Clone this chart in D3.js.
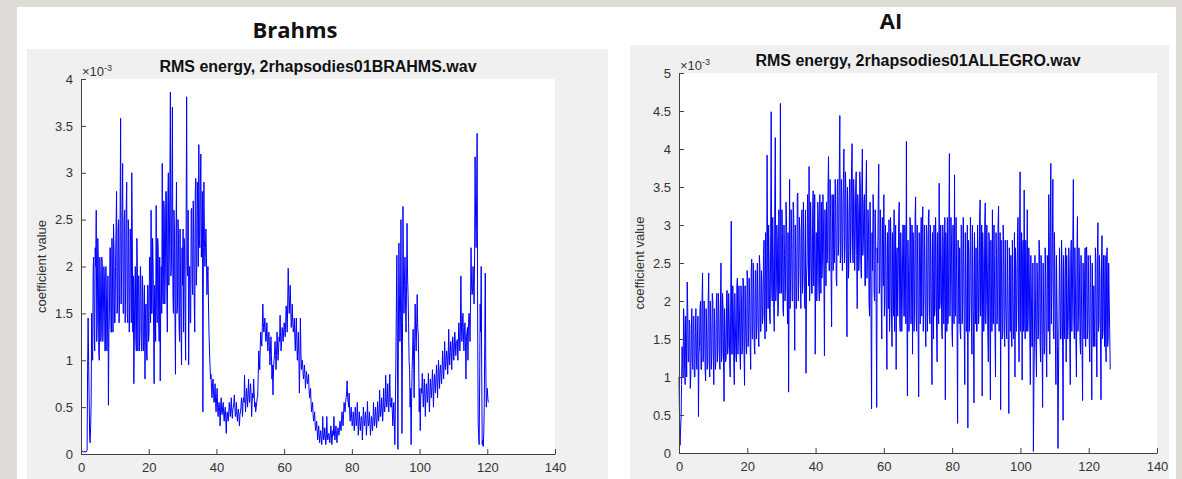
<!DOCTYPE html>
<html>
<head>
<meta charset="utf-8">
<script src="https://cdn.jsdelivr.net/npm/d3@7"></script>
<style>
  body { margin: 0; background: #dfdcd7; }
  text { font-family: "Liberation Sans", Arial, sans-serif; }
  .axis path, .axis line { stroke: #404040; }
  .axis text { fill: #333; font-size: 13px; font-family: "Liberation Sans", Arial, sans-serif; }
  .header { font-family: "Open Sans", Lato, sans-serif; font-weight: bold; font-size: 22px; fill: #111; }
  .title { font-weight: bold; font-size: 16px; fill: #111; }
  .y-label, .exp { fill: #333; font-size: 13px; }
</style>
</head>
<body>
<div id="chart"></div>
<script>
// frame hop in seconds, values are in units of 10^-3
const frameStep = 0.15;

const brahmsRms = [
  0.02,0.02,0.02,0.03,0.03,0.02,0.02,0.03,0.03,0.02,0.02,0.03,0.04,0.9,1.45,1.0,0.6,0.2,0.12,0.3,0.55,1.5,1.1,1.0,2.0,2.1,1.3,1.1,2.2,2.0,2.6,1.2,1.4,2.3,2.1,1.1,1.0,2.1,1.9,1.2,
  1.3,2.1,2.0,1.2,1.5,2.0,1.9,1.1,1.1,2.0,1.7,1.1,1.3,1.9,0.52,1.3,1.5,2.2,2.2,1.3,1.3,2.3,1.9,1.3,2.45,2.2,1.4,1.4,2.0,2.4,2.8,1.5,1.6,2.4,2.5,1.4,1.7,2.5,3.58,1.6,
  2.0,2.6,3.1,1.5,1.5,2.5,2.6,1.4,1.8,2.6,2.9,1.5,1.4,2.5,2.3,1.3,1.6,2.4,2.2,1.4,3.0,2.3,1.3,1.9,0.75,1.2,1.8,2.0,1.2,1.1,2.3,2.0,1.1,1.9,1.9,1.1,1.3,2.0,1.85,1.1,
  1.1,1.9,1.7,1.1,1.2,1.8,0.8,1.5,1.6,1.1,1.0,1.8,1.8,1.2,1.3,2.1,2.1,1.4,2.6,1.5,1.5,2.3,2.0,1.3,0.75,1.8,1.7,1.2,2.65,1.6,1.4,2.3,2.2,1.4,1.2,2.1,0.78,1.6,2.0,1.5,
  3.1,1.7,1.6,2.7,2.6,1.6,1.9,2.8,2.8,1.7,1.3,2.7,3.0,1.8,2.2,2.9,3.86,1.9,2.0,2.8,3.7,1.7,1.5,2.6,2.4,1.5,0.85,2.3,2.9,1.5,1.6,2.5,2.3,1.4,1.2,2.4,1.9,1.3,0.95,2.2,
  1.8,2.4,1.3,2.3,2.2,1.5,1.0,2.5,3.81,2.0,1.9,2.6,0.95,1.8,2.0,1.4,1.4,2.6,2.62,1.8,1.7,2.7,2.4,1.6,1.3,2.8,2.94,1.8,2.0,2.9,2.6,2.0,3.3,2.3,2.2,2.9,3.2,2.1,2.3,2.8,
  0.45,2.2,2.9,2.3,2.0,2.2,2.4,2.1,1.7,1.9,2.0,1.6,1.3,1.1,0.95,0.8,0.85,0.7,0.6,0.75,0.8,0.65,0.55,0.6,0.75,0.55,0.45,0.6,0.7,0.5,0.4,0.5,0.55,0.45,0.3,0.5,0.6,0.45,0.42,0.5,
  0.55,0.42,0.35,0.45,0.5,0.38,0.22,0.4,0.45,0.38,0.35,0.45,0.55,0.48,0.4,0.5,0.6,0.45,0.38,0.48,0.5,0.55,0.63,0.5,0.4,0.45,0.55,0.42,0.35,0.45,0.48,0.4,0.3,0.42,0.45,0.5,0.6,0.52,0.4,0.55,
  0.6,0.55,0.84,0.6,0.45,0.58,0.7,0.6,0.5,0.65,0.8,0.6,0.55,0.68,0.75,0.62,0.4,0.55,0.65,0.6,0.8,0.65,0.5,0.55,0.45,0.5,0.55,0.6,0.62,0.85,1.1,1.0,0.9,1.15,1.3,1.2,1.15,1.35,1.6,1.4,
  1.3,1.35,1.45,1.3,1.2,1.25,1.4,1.2,1.1,1.25,1.3,1.15,0.95,1.1,1.25,1.05,0.8,0.95,0.63,0.9,1.0,1.05,1.2,1.1,0.9,1.05,1.3,1.15,1.0,1.1,1.25,1.2,1.48,1.25,1.1,1.2,1.35,1.3,1.2,1.3,
  1.4,1.35,1.25,1.4,1.58,1.45,1.3,1.6,1.98,1.7,1.5,1.65,1.8,1.55,1.35,1.45,1.6,1.4,1.3,1.35,1.45,1.25,1.1,1.3,1.45,1.2,1.0,1.15,1.3,1.05,0.65,1.0,1.45,1.1,0.9,0.95,1.0,0.9,0.8,0.85,
  0.95,0.85,0.7,0.8,0.88,0.8,0.75,0.78,0.85,0.7,0.6,0.65,0.7,0.55,0.45,0.5,0.55,0.42,0.35,0.4,0.45,0.32,0.25,0.3,0.35,0.25,0.15,0.22,0.3,0.2,0.12,0.2,0.25,0.18,0.1,0.2,0.4,0.22,0.15,0.2,
  0.28,0.2,0.1,0.18,0.4,0.22,0.15,0.2,0.22,0.18,0.12,0.2,0.3,0.22,0.1,0.18,0.25,0.2,0.4,0.25,0.15,0.22,0.3,0.2,0.12,0.22,0.28,0.25,0.2,0.28,0.35,0.3,0.25,0.35,0.45,0.38,0.3,0.42,0.55,0.5,
  0.45,0.55,0.6,0.65,0.78,0.6,0.55,0.5,0.65,0.45,0.35,0.42,0.5,0.38,0.3,0.35,0.45,0.38,0.25,0.35,0.5,0.4,0.3,0.36,0.55,0.4,0.2,0.32,0.45,0.35,0.25,0.33,0.4,0.36,0.15,0.3,0.5,0.38,0.3,0.35,
  0.45,0.36,0.2,0.32,0.56,0.38,0.3,0.35,0.45,0.33,0.2,0.3,0.4,0.35,0.25,0.34,0.55,0.4,0.3,0.38,0.5,0.4,0.28,0.37,0.56,0.45,0.35,0.42,0.68,0.5,0.4,0.46,0.6,0.5,0.35,0.48,0.7,0.52,0.45,0.55,
  0.84,0.6,0.5,0.58,0.75,0.55,0.45,0.6,0.85,0.55,0.5,0.5,0.6,0.45,0.3,0.42,0.55,0.35,0.1,0.5,1.0,1.6,2.12,1.1,0.05,1.3,2.25,1.7,1.2,1.5,2.5,1.4,0.22,1.2,2.64,1.8,1.5,1.9,2.1,1.6,
  1.3,1.8,2.46,1.9,1.7,1.4,1.0,0.9,0.5,0.7,0.1,0.6,0.9,1.1,1.33,1.0,0.6,1.2,1.6,1.3,1.1,1.4,1.7,1.35,1.3,1.0,0.45,0.7,0.25,0.6,0.7,0.65,0.86,0.7,0.5,0.62,0.8,0.65,0.4,0.6,
  0.75,0.68,0.55,0.65,0.86,0.7,0.45,0.62,0.8,0.7,0.6,0.72,0.9,0.75,0.5,0.7,0.85,0.78,0.65,0.8,0.95,0.82,0.6,0.8,1.0,0.85,0.7,0.88,0.95,0.85,0.75,0.9,1.1,0.95,0.8,0.92,1.2,1.0,0.9,1.0,
  1.1,1.05,0.85,1.0,1.33,1.1,0.95,1.08,1.2,1.1,0.9,1.12,1.25,1.15,1.0,1.12,1.3,1.2,1.05,1.18,1.2,1.22,1.0,1.2,1.4,1.25,1.1,1.3,1.9,1.4,1.2,1.35,1.5,1.3,1.1,1.32,1.4,1.2,0.8,1.25,
  1.3,1.35,1.0,1.4,1.5,1.45,1.2,1.6,2.2,1.8,1.7,1.75,2.0,1.8,1.6,2.1,3.17,2.5,2.2,2.7,3.42,1.5,0.35,0.2,0.1,0.8,1.6,1.3,2.0,0.9,0.1,0.15,0.08,0.2,0.5,1.2,1.93,1.0,0.5,0.6,
  0.7,0.6,0.55
];

const aiRms = [
  1.0,0.5,0.1,0.3,0.45,0.9,1.4,1.2,1.0,1.9,1.7,1.1,0.9,1.8,1.5,1.0,2.25,1.9,1.2,1.2,1.75,1.7,0.85,1.0,1.55,1.9,1.2,1.1,1.8,1.8,1.0,1.0,1.6,1.9,1.25,1.1,1.5,1.8,0.48,1.3,
  1.4,1.9,2.0,1.1,1.1,2.0,2.37,1.2,1.3,2.0,1.8,1.1,0.95,1.9,1.6,1.1,1.2,2.0,2.37,1.2,1.0,2.0,1.7,1.1,1.3,2.1,2.0,1.2,0.9,1.9,1.6,1.1,1.2,2.0,2.1,1.2,1.4,2.1,1.8,1.2,
  1.1,2.0,2.5,1.2,1.3,2.1,1.9,1.2,0.68,1.9,1.6,1.2,1.25,2.1,2.14,1.3,1.4,2.1,1.8,1.2,1.0,2.0,3.05,1.3,1.3,2.2,1.9,1.2,0.9,2.1,1.7,1.3,1.2,2.2,2.3,1.3,1.5,2.2,1.9,1.3,
  1.1,2.2,2.0,1.3,1.4,2.3,2.2,1.3,0.89,2.2,1.8,1.4,1.3,2.4,2.3,1.4,1.6,2.3,2.0,1.4,1.1,2.4,2.55,1.5,1.5,2.5,2.1,1.4,1.3,2.4,2.4,1.5,1.7,2.5,2.0,1.5,1.4,2.6,2.45,1.6,
  1.6,2.4,2.2,1.7,1.8,2.6,2.8,1.8,1.5,2.9,2.3,1.6,3.92,2.7,1.9,3.0,2.5,1.8,1.7,2.9,4.49,2.2,2.0,3.1,2.6,1.9,1.6,3.3,4.15,2.0,2.2,3.0,2.8,1.8,1.9,3.2,2.4,2.1,4.6,2.3,
  2.1,3.2,2.9,1.9,1.8,3.0,2.6,2.0,2.2,3.3,3.0,2.1,1.7,2.9,0.8,2.2,3.6,1.9,2.3,3.2,2.8,2.0,2.0,3.3,3.1,2.1,1.35,3.0,2.6,1.9,2.2,3.4,3.42,2.0,2.4,3.1,2.9,2.2,1.9,3.0,
  3.2,2.1,2.3,3.3,2.7,2.0,1.9,3.2,1.05,2.3,2.5,3.4,3.0,2.2,3.77,2.0,2.4,3.3,2.8,2.1,2.1,3.2,3.45,2.2,2.6,3.4,1.3,2.5,2.9,2.0,2.3,3.3,3.1,2.2,2.0,3.4,2.7,2.1,3.3,2.3,
  2.5,3.4,3.0,2.3,1.28,3.2,2.8,2.2,3.3,2.5,2.6,3.5,3.9,2.4,2.4,3.6,3.1,2.3,1.66,3.4,2.9,2.4,3.4,2.5,2.7,3.6,3.2,2.3,2.2,3.5,3.6,2.6,2.8,3.7,4.44,2.5,2.6,3.6,3.3,2.4,
  2.9,3.6,4.0,2.5,2.7,3.7,3.4,2.4,1.53,3.5,3.1,2.3,2.6,3.6,3.6,2.5,2.9,3.8,4.07,2.6,2.5,3.6,3.3,2.4,2.8,3.5,3.7,2.6,1.9,3.4,3.2,2.4,2.6,3.7,3.5,2.5,2.3,3.5,4.0,2.6,
  2.8,3.3,3.4,2.2,2.2,3.4,3.85,2.3,2.6,3.2,3.0,2.0,1.8,3.3,2.7,1.7,0.58,2.9,2.4,3.4,3.1,2.1,2.0,3.2,2.8,1.9,0.6,2.7,2.5,3.3,3.8,2.1,2.2,3.2,2.9,2.0,1.5,3.1,2.6,2.2,
  3.4,1.8,2.0,3.0,2.7,1.7,1.1,2.9,2.5,1.9,3.07,1.6,1.9,3.1,2.8,1.7,1.4,2.9,2.6,1.8,3.2,1.6,2.1,3.0,1.1,2.6,2.7,1.8,2.3,3.1,3.3,1.7,1.6,2.9,2.5,1.6,2.0,3.0,3.0,1.8,
  1.8,3.0,2.6,1.7,4.1,2.1,0.75,2.8,2.4,1.6,1.9,3.1,3.0,1.7,2.2,3.0,1.3,2.9,2.7,1.6,2.0,3.1,3.37,1.8,1.6,3.0,2.5,1.6,0.74,2.9,2.3,1.7,2.8,3.1,1.8,2.9,3.24,1.6,2.1,3.0,
  2.5,1.7,1.4,3.0,2.9,1.6,2.0,3.1,3.2,1.8,1.7,3.0,2.6,1.6,0.9,2.9,2.4,1.5,3.0,1.8,1.9,3.1,2.7,1.6,1.2,2.9,2.3,1.7,3.55,1.9,2.0,3.0,2.6,1.6,1.5,3.0,2.8,1.7,2.1,3.1,
  0.7,2.9,2.5,1.6,3.1,1.7,1.9,3.0,3.94,1.8,2.2,3.1,2.8,1.6,1.4,3.0,2.6,1.7,3.66,1.9,1.8,3.1,2.4,1.6,0.39,2.8,2.1,1.7,2.7,1.6,1.5,3.0,2.98,1.7,2.0,3.1,2.5,1.6,0.9,2.9,
  2.3,1.6,1.7,3.0,0.33,2.8,2.6,1.6,2.0,3.1,2.8,1.7,1.3,3.0,2.4,1.6,0.66,2.9,2.2,1.7,2.7,1.6,1.6,3.0,2.5,1.7,1.9,3.1,3.33,1.8,2.1,3.0,0.75,2.9,2.6,1.6,1.8,3.0,3.29,1.7,
  2.0,3.0,2.5,1.6,1.2,2.9,2.8,1.7,0.7,2.8,2.2,1.6,3.2,1.7,1.7,3.0,2.4,1.6,1.0,2.9,2.6,1.7,1.9,3.0,3.25,1.6,2.1,2.9,0.57,2.8,2.3,1.5,1.6,3.0,2.5,1.6,1.4,2.8,2.0,1.7,
  1.5,2.8,2.2,1.5,0.52,2.7,1.9,1.6,2.6,1.5,1.4,2.8,2.1,1.5,1.7,2.9,1.0,2.7,2.4,1.6,2.0,2.9,3.1,1.7,1.2,2.8,3.7,1.6,2.2,2.9,0.96,2.6,2.8,1.6,3.46,1.8,1.5,2.8,2.5,1.6,
  3.2,1.6,1.8,2.7,2.4,1.5,0.9,2.6,2.1,1.4,1.4,2.5,0.02,0.9,1.5,2.6,2.0,1.4,1.0,2.5,2.2,1.5,1.6,2.8,2.69,1.5,1.2,2.6,2.0,1.4,0.6,2.5,1.8,1.3,1.4,2.7,2.3,1.4,1.0,2.6,
  2.5,1.6,3.4,2.7,1.3,2.9,3.81,1.7,2.2,2.8,3.6,1.6,1.5,2.9,2.4,1.5,0.9,2.6,2.0,1.4,0.06,1.0,1.8,2.7,2.2,1.5,1.5,2.8,2.4,1.4,0.43,2.6,1.9,1.5,2.3,2.7,1.2,2.6,2.1,1.5,
  1.7,2.7,2.4,1.5,0.9,2.6,2.8,1.6,1.9,2.8,3.6,1.7,1.5,2.7,2.2,1.5,1.0,2.6,3.11,1.6,1.8,2.7,2.3,1.5,1.3,2.6,2.0,1.4,0.69,2.5,1.9,1.5,2.3,2.7,1.4,2.6,2.71,1.5,1.6,2.6,
  2.1,1.5,1.2,2.6,2.4,1.5,0.7,2.5,1.9,1.4,2.2,1.6,1.4,2.7,2.5,1.5,1.0,2.6,3.03,1.6,1.7,2.6,2.3,1.5,0.7,2.5,2.86,1.5,1.6,2.6,2.1,1.4,2.6,1.5,1.2,2.6,2.7,1.4,1.5,2.5,
  2.0,1.6,1.1
];

const xTicks = [0, 20, 40, 60, 80, 100, 120, 140];
const brahmsYTicks = [0, 0.5, 1, 1.5, 2, 2.5, 3, 3.5, 4];
const aiYTicks = [0, 0.5, 1, 1.5, 2, 2.5, 3, 3.5, 4, 4.5, 5];

const W = 1182, H = 479;

const svg = d3.select("#chart")
    .append("svg")
    .attr("width", W)
    .attr("height", H);

// white slide panel
svg.append("rect")
    .attr("x", 17)
    .attr("y", 7)
    .attr("width", 1159)
    .attr("height", H - 7)
    .attr("fill", "#fff");

function rmsEnergyPlot(svg, cfg) {
    const box = cfg.plot;
    const width = box.right - box.left,
          height = box.bottom - box.top;

    svg.append("rect")
        .attr("x", cfg.figure.x)
        .attr("y", cfg.figure.y)
        .attr("width", cfg.figure.w)
        .attr("height", H - cfg.figure.y)
        .attr("fill", "#f0f0f0");

    svg.append("text")
        .attr("class", "header")
        .attr("x", cfg.header.x)
        .attr("y", cfg.header.y)
        .attr("text-anchor", "middle")
        .text(cfg.header.text);

    const g = svg.append("g")
        .attr("transform", `translate(${box.left},${box.top})`);

    g.append("rect")
        .attr("width", width)
        .attr("height", height)
        .attr("fill", "#fff");

    const xScale = d3.scaleLinear()
        .domain([0, 140])
        .range([0, width]);
    const yScale = d3.scaleLinear()
        .domain([0, cfg.yMax])
        .range([height, 0]);

    const line = d3.line()
        .x((d, i) => xScale(i * frameStep))
        .y(d => yScale(d));

    g.append("path")
        .datum(cfg.values)
        .attr("d", line)
        .attr("fill", "none")
        .attr("stroke", "#0000ff")
        .attr("stroke-width", 1)
        .attr("stroke-linejoin", "round");

    let xAxis = d3.axisBottom(xScale)
        .tickValues(xTicks)
        .tickSizeInner(-5)
        .tickSizeOuter(0)
        .tickPadding(9);
    let yAxis = d3.axisLeft(yScale)
        .tickValues(cfg.yTicks)
        .tickFormat(d3.format("~g"))
        .tickSizeInner(-5)
        .tickSizeOuter(0)
        .tickPadding(8);

    g.append("g")
        .attr("class", "axis x-axis")
        .attr("transform", `translate(0, ${height})`)
        .call(xAxis);
    g.append("g")
        .attr("class", "axis y-axis")
        .call(yAxis);
    g.selectAll(".axis text").attr("font-size", null).attr("font-family", null);

    g.append("text")
        .attr("class", "title")
        .attr("x", width / 2)
        .attr("y", -7)
        .attr("text-anchor", "middle")
        .text(cfg.title);

    const exp = g.append("text")
        .attr("class", "exp")
        .attr("x", 1)
        .attr("y", -3);
    exp.append("tspan").text("\u00d710");
    exp.append("tspan")
        .attr("dy", -5)
        .attr("font-size", "9px")
        .text("-3");

    g.append("text")
        .attr("class", "y-label")
        .attr("transform", `translate(-35, ${height / 2}) rotate(-90)`)
        .attr("text-anchor", "middle")
        .text("coefficient value");
}

rmsEnergyPlot(svg, {
    figure: {x: 27, y: 49, w: 581},
    header: {text: "Brahms", x: 295, y: 38},
    plot: {left: 81, top: 79, right: 555, bottom: 454},
    title: "RMS energy, 2rhapsodies01BRAHMS.wav",
    yMax: 4,
    yTicks: brahmsYTicks,
    values: brahmsRms
});

rmsEnergyPlot(svg, {
    figure: {x: 630, y: 45, w: 539},
    header: {text: "AI", x: 891, y: 29},
    plot: {left: 679, top: 73, right: 1157, bottom: 453},
    title: "RMS energy, 2rhapsodies01ALLEGRO.wav",
    yMax: 5,
    yTicks: aiYTicks,
    values: aiRms
});
</script>
</body>
</html>
